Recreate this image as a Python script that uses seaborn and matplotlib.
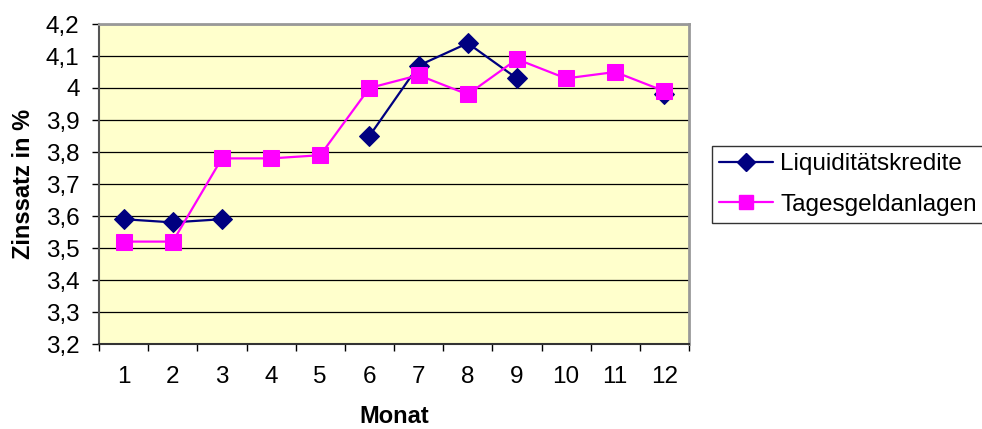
import numpy as np
import pandas as pd
import matplotlib
matplotlib.use("Agg")
import matplotlib.pyplot as plt
from matplotlib.ticker import FixedLocator, FuncFormatter
from matplotlib.lines import Line2D
import seaborn as sns

# Daten
monate = list(range(1, 13))
liquiditaetskredite = [3.59, 3.58, 3.59, np.nan, np.nan, 3.85, 4.07, 4.14, 4.03, np.nan, np.nan, 3.98]
tagesgeldanlagen = [3.52, 3.52, 3.78, 3.78, 3.79, 4.00, 4.04, 3.98, 4.09, 4.03, 4.05, 3.99]
y_ticks = [3.2, 3.3, 3.4, 3.5, 3.6, 3.7, 3.8, 3.9, 4.0, 4.1, 4.2]

sns.set_style("white", {"text.color": "black", "axes.labelcolor": "black",
                        "xtick.color": "black", "ytick.color": "black"})
plt.rcParams["font.family"] = ["Liberation Sans", "DejaVu Sans"]

navy = "#000080"
magenta = "#FF00FF"
fs = 17.5

# Lücken in der Reihe erhalten: zusammenhängende Abschnitte als "units"
df_liq = pd.DataFrame({"Monat": monate, "Zins": liquiditaetskredite})
df_liq["abschnitt"] = df_liq["Zins"].isna().cumsum()
df_liq = df_liq.dropna()
df_tag = pd.DataFrame({"Monat": monate, "Zins": tagesgeldanlagen})

fig = plt.figure(figsize=(9.82, 4.29), dpi=100)
ax = fig.add_axes([99 / 982, 1 - 344 / 429, 590 / 982, 320 / 429])
ax.set_facecolor("#FFFFCC")

sns.lineplot(data=df_liq, x="Monat", y="Zins", units="abschnitt", estimator=None,
             color=navy, marker="D", markersize=10.5, markeredgecolor=navy,
             linewidth=1.6, ax=ax, zorder=3)
sns.lineplot(data=df_tag, x="Monat", y="Zins", color=magenta, marker="s",
             markersize=11.5, markeredgecolor=magenta, linewidth=1.6, ax=ax, zorder=4)

ax.set_xlim(0.5, 12.5)
ax.set_ylim(3.2, 4.2)

ax.xaxis.set_major_locator(FixedLocator(monate))
ax.xaxis.set_minor_locator(FixedLocator([m + 0.5 for m in range(0, 13)]))
ax.tick_params(axis="x", which="major", length=0, pad=16, labelsize=fs, labelcolor="black")
ax.tick_params(axis="x", which="minor", length=5, width=1, color="black", direction="out", bottom=True)
ax.set_xticklabels([str(m) for m in monate])

ax.yaxis.set_major_locator(FixedLocator(y_ticks))
ax.yaxis.set_major_formatter(FuncFormatter(lambda v, p: f"{v:g}".replace(".", ",")))
ax.tick_params(axis="y", which="major", length=5, width=1, color="black",
               direction="out", left=True, pad=9, labelsize=fs, labelcolor="black")

ax.grid(True, axis="y", color="black", linewidth=0.9)
ax.grid(False, axis="x")

for side in ["top", "right"]:
    ax.spines[side].set_color("#999999")
    ax.spines[side].set_linewidth(2)
ax.spines["left"].set_color("#555555")
ax.spines["left"].set_linewidth(1.5)
ax.spines["bottom"].set_color("#333333")
ax.spines["bottom"].set_linewidth(1.5)

ax.set_xlabel("Monat", fontsize=fs - 0.5, fontweight="bold", labelpad=12, color="black")
ax.set_ylabel("Zinssatz in %", fontsize=fs - 0.5, fontweight="bold", labelpad=8, color="black")

handles = [
    Line2D([], [], color=navy, marker="D", markersize=9.5, linewidth=1.6),
    Line2D([], [], color=magenta, marker="s", markersize=10.5, linewidth=1.6),
]
leg = fig.legend(handles, ["Liquiditätskredite", "Tagesgeldanlagen"],
                 loc="upper left", bbox_to_anchor=(712 / 982, 1 - 146 / 429),
                 fontsize=fs, frameon=True, fancybox=False, edgecolor="black",
                 handlelength=2.2, handletextpad=0.3, borderpad=0.3,
                 labelspacing=0.75, borderaxespad=0, labelcolor="black")
leg.get_frame().set_linewidth(1)

fig.savefig("out.png", dpi=100)
